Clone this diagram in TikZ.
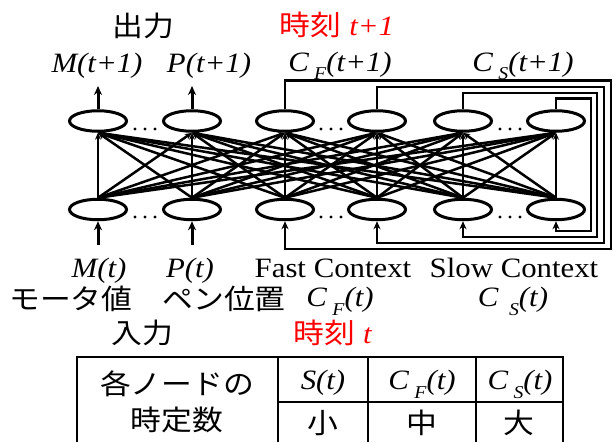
\documentclass[tikz,border=0pt]{standalone}
\usepackage{fontspec}
\setmainfont{Liberation Serif}
\newfontfamily\jp{Noto Sans CJK JP}
\usetikzlibrary{arrows.meta,shapes.geometric}
\newcommand\ws[1]{\scalebox{1.1}[1]{#1}}
\newcommand\subsc[1]{\raisebox{-0.7ex}[0pt][0pt]{\fontsize{18}{18}\selectfont\textit{#1}}}
\definecolor{jred}{RGB}{255,0,0}
\begin{document}
\begin{tikzpicture}[x=1pt,y=-1pt,
  neuron/.style={draw, ellipse, line width=3pt, minimum width=57pt, minimum height=20.5pt, inner sep=0pt},
  conn/.style={line width=2.5pt, -{Stealth[length=7pt,width=6pt]}},
  fb/.style={line width=2.8pt, -{Stealth[length=8pt,width=7pt]}},
  io/.style={line width=3pt, -{Stealth[length=9pt,width=8pt]}},
  lab/.style={inner sep=0pt, font=\fontsize{28}{30}\selectfont},
  tline/.style={line width=2.8pt}]
\fill[white] (0,0) rectangle (616,442);
\useasboundingbox (0,0) rectangle (616,442);

% neurons
\foreach \n/\x in {1/98,2/192,3/285,4/377,5/463,6/556}{
  \node[neuron] (t\n) at (\x,121) {};
  \node[neuron] (b\n) at (\x,209.5) {};
}
% full connections
\foreach \i in {1,...,6}{
  \foreach \j in {1,...,6}{
    \draw[conn] (b\i.north) -- (t\j.south);
  }
}
% dots
\foreach \c in {145,331,510}{
  \foreach \d in {-10,0,10}{
    \fill (\c+\d,129) circle (1.7pt);
    \fill (\c+\d,217) circle (1.7pt);
  }
}
% output and input arrows
\coordinate (o1) at (98,86);
\coordinate (o2) at (192,86);
\coordinate (i1) at (98,245);
\coordinate (i2) at (192,245);
\draw[io] (t1.north) -- (o1);
\draw[io] (t2.north) -- (o2);
\draw[io] (i1) -- (b1.south);
\draw[io] (i2) -- (b2.south);
% feedback loops
\draw[fb] (t3.north) |- (611,80.5) |- (285,249) -- (b3.south);
\draw[fb] (t4.north) |- (604,87) |- (377,243) -- (b4.south);
\draw[fb] (t5.north) |- (597,93) |- (463,237) -- (b5.south);
\draw[fb] (t6.north) |- (591,98.5) |- (556,231) -- (b6.south);

% top labels
\node[lab, anchor=base] (out) at (143,36) {\ws{\jp 出力}};
\node[lab, anchor=base, text=jred] (tnext) at (337,35) {\ws{{\jp 時刻} \textit{t+1}}};
\node[lab, anchor=base] (mn) at (97,72) {\ws{\textit{M(t+1)}}};
\node[lab, anchor=base] (pn) at (209,72) {\ws{\textit{P(t+1)}}};
\node[lab, anchor=base] (cfn) at (340,71) {\ws{\textit{C}\,\subsc{F}\textit{(t+1)}}};
\node[lab, anchor=base] (csn) at (523,71) {\ws{\textit{C}\,\subsc{S}\textit{(t+1)}}};

% bottom labels
\node[lab, anchor=base] (mt) at (99,277) {\ws{\textit{M(t)}}};
\node[lab, anchor=base] (pt) at (190,277) {\ws{\textit{P(t)}}};
\node[lab, anchor=base] (fc) at (333,277) {\ws{Fast Context}};
\node[lab, anchor=base] (sc) at (514,277) {\ws{Slow Context}};
\node[lab, anchor=base] (mv) at (71,309) {\ws{\jp モータ値}};
\node[lab, anchor=base] (pv) at (224,309) {\ws{\jp ペン位置}};
\node[lab, anchor=base] (cft) at (340,306) {\ws{\textit{C}\,\subsc{F}\textit{(t)}}};
\node[lab, anchor=base] (cst) at (513,306) {\ws{\textit{C}\,\,\subsc{S}\textit{(t)}}};
\node[lab, anchor=base] (inp) at (142,343) {\ws{\jp 入力}};
\node[lab, anchor=base, text=jred] (tnow) at (333,343) {\ws{{\jp 時刻} \textit{t}}};

% table
\draw[tline] (77,442) -- (77,357) -- (563,357) -- (563,442);
\draw[tline] (278,357) -- (278,442);
\draw[tline] (368,357) -- (368,442);
\draw[tline] (476,357) -- (476,442);
\draw[tline] (278,402) -- (563,402);
\node[lab, anchor=base] (h1) at (177,394) {\ws{\jp 各ノードの}};
\node[lab, anchor=base] (h2) at (177,430) {\ws{\jp 時定数}};
\node[lab, anchor=base] (hs) at (323,389) {\ws{\textit{S(t)}}};
\node[lab, anchor=base] (hf) at (422,389) {\ws{\textit{C}\,\subsc{F}\textit{(t)}}};
\node[lab, anchor=base] (hsl) at (520,389) {\ws{\textit{C}\,\subsc{S}\textit{(t)}}};
\node[lab, anchor=base] (v1) at (323,433) {\ws{\jp 小}};
\node[lab, anchor=base] (v2) at (422,433) {\ws{\jp 中}};
\node[lab, anchor=base] (v3) at (519,433) {\ws{\jp 大}};
\end{tikzpicture}
\end{document}
